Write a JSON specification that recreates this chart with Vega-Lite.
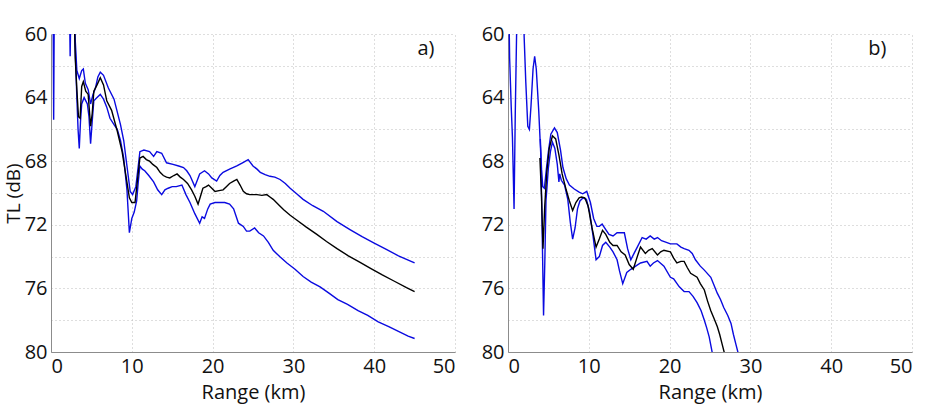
{
"$schema":"https://vega.github.io/schema/vega-lite/v6.json",
"background":"white",
"padding":{"left":4,"top":24,"right":5,"bottom":5},
"spacing":26,
"config":{
 "font":"Open Sans",
 "view":{"stroke":null},
 "axis":{"labelFont":"Open Sans","titleFont":"Open Sans","labelFontSize":20,"titleFontSize":20,"titleFontWeight":"normal","labelColor":"#111","titleColor":"#111","gridColor":"#bdbdbd","gridDash":[1,3],"gridWidth":1,"domainColor":"#8c8c8c","ticks":false,"labelPadding":4}
},
"datasets":{
"a":[
{"s":"l","x":0.25,"y":57},{"s":"l","x":0.33,"y":65.4},{"s":"l","x":0.42,"y":57},{"s":"l","x":2.25,"y":57},{"s":"l","x":2.37,"y":61.4},{"s":"l","x":2.5,"y":57},
{"s":"l","x":2.8,"y":57},{"s":"l","x":3.0,"y":61},{"s":"l","x":3.2,"y":64},{"s":"l","x":3.35,"y":66},{"s":"l","x":3.5,"y":67.2},{"s":"l","x":3.65,"y":65.5},{"s":"l","x":3.8,"y":64.4},{"s":"l","x":4.1,"y":64.0},{"s":"l","x":4.5,"y":64.4},{"s":"l","x":4.7,"y":65.2},{"s":"l","x":4.9,"y":66.9},{"s":"l","x":5.1,"y":65.5},{"s":"l","x":5.3,"y":64.2},{"s":"l","x":5.7,"y":64.0},{"s":"l","x":6.1,"y":63.8},{"s":"l","x":6.5,"y":64.1},{"s":"l","x":6.9,"y":64.6},{"s":"l","x":7.3,"y":65.3},{"s":"l","x":7.8,"y":65.7},{"s":"l","x":8.2,"y":66.0},{"s":"l","x":8.6,"y":66.7},{"s":"l","x":9.0,"y":67.8},{"s":"l","x":9.4,"y":69.8},{"s":"l","x":9.7,"y":72.5},{"s":"l","x":10.0,"y":71.6},{"s":"l","x":10.3,"y":71.2},{"s":"l","x":10.6,"y":70.5},{"s":"l","x":10.8,"y":69.3},{"s":"l","x":11.0,"y":68.3},{"s":"l","x":11.3,"y":68.5},{"s":"l","x":11.6,"y":68.6},{"s":"l","x":12.1,"y":68.9},{"s":"l","x":12.7,"y":69.3},{"s":"l","x":13.2,"y":69.8},{"s":"l","x":13.7,"y":70.1},{"s":"l","x":14.1,"y":69.8},{"s":"l","x":14.5,"y":69.7},{"s":"l","x":15.0,"y":69.6},{"s":"l","x":15.5,"y":69.6},{"s":"l","x":16.2,"y":69.5},{"s":"l","x":16.7,"y":70.1},{"s":"l","x":17.2,"y":70.6},{"s":"l","x":17.8,"y":71.3},{"s":"l","x":18.4,"y":71.9},{"s":"l","x":18.7,"y":71.5},{"s":"l","x":19.0,"y":71.6},{"s":"l","x":19.4,"y":71.0},{"s":"l","x":19.7,"y":70.7},{"s":"l","x":20.3,"y":70.6},{"s":"l","x":20.9,"y":70.6},{"s":"l","x":21.5,"y":70.6},{"s":"l","x":22.1,"y":70.7},{"s":"l","x":22.6,"y":71.0},{"s":"l","x":23.2,"y":71.9},{"s":"l","x":23.8,"y":72.1},{"s":"l","x":24.2,"y":72.4},{"s":"l","x":24.6,"y":72.4},{"s":"l","x":25.2,"y":72.2},{"s":"l","x":25.7,"y":72.5},{"s":"l","x":26.3,"y":72.7},{"s":"l","x":26.9,"y":73.1},{"s":"l","x":27.5,"y":73.6},{"s":"l","x":28.3,"y":74.0},{"s":"l","x":29.2,"y":74.4},{"s":"l","x":30.2,"y":74.8},{"s":"l","x":31.2,"y":75.25},{"s":"l","x":32.2,"y":75.6},{"s":"l","x":33.3,"y":75.9},{"s":"l","x":34.4,"y":76.3},{"s":"l","x":35.5,"y":76.7},{"s":"l","x":36.7,"y":77.0},{"s":"l","x":38.0,"y":77.4},{"s":"l","x":39.2,"y":77.7},{"s":"l","x":40.5,"y":78.1},{"s":"l","x":41.8,"y":78.4},{"s":"l","x":43.0,"y":78.7},{"s":"l","x":44.2,"y":79.0},{"s":"l","x":45.0,"y":79.15},
{"s":"u","x":2.7,"y":57},{"s":"u","x":2.9,"y":59.6},{"s":"u","x":3.0,"y":60.4},{"s":"u","x":3.2,"y":62.3},{"s":"u","x":3.5,"y":62.8},{"s":"u","x":3.8,"y":62.3},{"s":"u","x":4.0,"y":62.2},{"s":"u","x":4.25,"y":63.1},{"s":"u","x":4.6,"y":63.5},{"s":"u","x":4.9,"y":64.4},{"s":"u","x":5.2,"y":63.8},{"s":"u","x":5.5,"y":63.4},{"s":"u","x":5.8,"y":62.7},{"s":"u","x":6.1,"y":62.4},{"s":"u","x":6.5,"y":62.6},{"s":"u","x":7.1,"y":63.4},{"s":"u","x":7.8,"y":64.1},{"s":"u","x":8.6,"y":65.7},{"s":"u","x":9.0,"y":66.7},{"s":"u","x":9.4,"y":68.3},{"s":"u","x":9.8,"y":69.9},{"s":"u","x":10.1,"y":70.1},{"s":"u","x":10.5,"y":69.6},{"s":"u","x":10.8,"y":68.3},{"s":"u","x":11.0,"y":67.4},{"s":"u","x":11.5,"y":67.3},{"s":"u","x":12.2,"y":67.4},{"s":"u","x":12.7,"y":67.7},{"s":"u","x":13.1,"y":67.4},{"s":"u","x":13.7,"y":67.5},{"s":"u","x":14.3,"y":68.1},{"s":"u","x":15.1,"y":68.2},{"s":"u","x":15.8,"y":68.3},{"s":"u","x":16.4,"y":68.4},{"s":"u","x":16.8,"y":68.6},{"s":"u","x":17.2,"y":68.9},{"s":"u","x":17.8,"y":69.6},{"s":"u","x":18.4,"y":68.8},{"s":"u","x":19.0,"y":68.6},{"s":"u","x":19.5,"y":68.8},{"s":"u","x":19.9,"y":69.05},{"s":"u","x":20.5,"y":69.25},{"s":"u","x":20.9,"y":68.9},{"s":"u","x":21.3,"y":68.7},{"s":"u","x":22.1,"y":68.5},{"s":"u","x":23.0,"y":68.3},{"s":"u","x":23.7,"y":68.1},{"s":"u","x":24.4,"y":67.9},{"s":"u","x":25.0,"y":68.3},{"s":"u","x":25.5,"y":68.5},{"s":"u","x":25.9,"y":68.7},{"s":"u","x":26.5,"y":68.85},{"s":"u","x":27.1,"y":68.95},{"s":"u","x":27.7,"y":69.0},{"s":"u","x":28.35,"y":69.15},{"s":"u","x":29.0,"y":69.4},{"s":"u","x":29.6,"y":69.7},{"s":"u","x":30.4,"y":70.05},{"s":"u","x":31.2,"y":70.4},{"s":"u","x":32.4,"y":70.8},{"s":"u","x":33.7,"y":71.15},{"s":"u","x":35.4,"y":71.8},{"s":"u","x":37.0,"y":72.3},{"s":"u","x":38.5,"y":72.75},{"s":"u","x":40.0,"y":73.15},{"s":"u","x":41.5,"y":73.55},{"s":"u","x":43.0,"y":73.95},{"s":"u","x":45.0,"y":74.4},
{"s":"m","x":2.8,"y":57},{"s":"m","x":3.0,"y":61.5},{"s":"m","x":3.2,"y":63.5},{"s":"m","x":3.4,"y":65.2},{"s":"m","x":3.6,"y":65.3},{"s":"m","x":3.8,"y":63.3},{"s":"m","x":4.0,"y":63.0},{"s":"m","x":4.3,"y":63.6},{"s":"m","x":4.6,"y":63.8},{"s":"m","x":4.9,"y":65.8},{"s":"m","x":5.1,"y":65.0},{"s":"m","x":5.3,"y":63.6},{"s":"m","x":5.7,"y":63.2},{"s":"m","x":6.1,"y":62.75},{"s":"m","x":6.5,"y":63.2},{"s":"m","x":6.9,"y":64.2},{"s":"m","x":7.5,"y":64.8},{"s":"m","x":8.2,"y":66.1},{"s":"m","x":8.8,"y":67.4},{"s":"m","x":9.3,"y":69.0},{"s":"m","x":9.7,"y":70.3},{"s":"m","x":10.0,"y":70.6},{"s":"m","x":10.4,"y":70.6},{"s":"m","x":10.7,"y":69.2},{"s":"m","x":11.0,"y":67.8},{"s":"m","x":11.4,"y":67.7},{"s":"m","x":11.8,"y":67.9},{"s":"m","x":12.2,"y":68.0},{"s":"m","x":12.6,"y":68.2},{"s":"m","x":13.1,"y":68.4},{"s":"m","x":13.5,"y":68.7},{"s":"m","x":13.9,"y":68.9},{"s":"m","x":14.3,"y":69.0},{"s":"m","x":14.7,"y":69.05},{"s":"m","x":15.2,"y":68.9},{"s":"m","x":15.6,"y":68.8},{"s":"m","x":16.0,"y":69.0},{"s":"m","x":16.4,"y":69.15},{"s":"m","x":16.9,"y":69.4},{"s":"m","x":17.4,"y":69.8},{"s":"m","x":17.8,"y":70.2},{"s":"m","x":18.2,"y":70.7},{"s":"m","x":18.5,"y":70.2},{"s":"m","x":18.8,"y":69.7},{"s":"m","x":19.2,"y":69.6},{"s":"m","x":19.5,"y":69.5},{"s":"m","x":19.9,"y":69.7},{"s":"m","x":20.3,"y":69.9},{"s":"m","x":20.8,"y":69.85},{"s":"m","x":21.3,"y":69.8},{"s":"m","x":21.7,"y":69.6},{"s":"m","x":22.1,"y":69.4},{"s":"m","x":22.6,"y":69.25},{"s":"m","x":23.0,"y":69.15},{"s":"m","x":23.4,"y":69.5},{"s":"m","x":23.8,"y":69.9},{"s":"m","x":24.2,"y":70.05},{"s":"m","x":24.6,"y":70.1},{"s":"m","x":25.5,"y":70.1},{"s":"m","x":26.1,"y":70.15},{"s":"m","x":26.7,"y":70.1},{"s":"m","x":27.1,"y":70.25},{"s":"m","x":27.5,"y":70.4},{"s":"m","x":28.2,"y":70.75},{"s":"m","x":28.8,"y":71.05},{"s":"m","x":29.6,"y":71.4},{"s":"m","x":30.4,"y":71.7},{"s":"m","x":31.6,"y":72.15},{"s":"m","x":32.9,"y":72.6},{"s":"m","x":34.1,"y":73.05},{"s":"m","x":35.4,"y":73.5},{"s":"m","x":36.8,"y":73.95},{"s":"m","x":38.2,"y":74.35},{"s":"m","x":39.6,"y":74.75},{"s":"m","x":41.0,"y":75.15},{"s":"m","x":42.5,"y":75.55},{"s":"m","x":44.0,"y":75.95},{"s":"m","x":45.0,"y":76.2}
],
"b":[
{"s":"l","x":0.1,"y":58},{"s":"l","x":0.2,"y":61.5},{"s":"l","x":0.4,"y":64.6},{"s":"l","x":0.55,"y":66.5},{"s":"l","x":0.75,"y":71},{"s":"l","x":0.9,"y":65},{"s":"l","x":1.07,"y":59.8},{"s":"l","x":1.2,"y":57},{"s":"l","x":1.85,"y":57},{"s":"l","x":2.0,"y":60.2},{"s":"l","x":2.2,"y":63},{"s":"l","x":2.45,"y":65.8},{"s":"l","x":2.65,"y":66.0},{"s":"l","x":2.85,"y":64.5},{"s":"l","x":3.1,"y":62.2},{"s":"l","x":3.3,"y":61.4},{"s":"l","x":3.5,"y":62.2},{"s":"l","x":3.8,"y":64.8},{"s":"l","x":4.05,"y":67.5},{"s":"l","x":4.2,"y":71.5},{"s":"l","x":4.4,"y":77.7},{"s":"l","x":4.55,"y":74.5},{"s":"l","x":4.7,"y":70.5},{"s":"l","x":5.0,"y":68.4},{"s":"l","x":5.25,"y":67.4},{"s":"l","x":5.5,"y":66.8},{"s":"l","x":5.8,"y":67.2},{"s":"l","x":6.1,"y":68.2},{"s":"l","x":6.3,"y":69.3},{"s":"l","x":6.4,"y":68.8},{"s":"l","x":6.6,"y":69.2},{"s":"l","x":7.0,"y":69.5},{"s":"l","x":7.4,"y":70.4},{"s":"l","x":7.7,"y":71.8},{"s":"l","x":8.0,"y":72.9},{"s":"l","x":8.3,"y":72.2},{"s":"l","x":8.6,"y":71.0},{"s":"l","x":8.9,"y":70.5},{"s":"l","x":9.3,"y":70.3},{"s":"l","x":9.7,"y":70.4},{"s":"l","x":10.1,"y":71.2},{"s":"l","x":10.5,"y":72.6},{"s":"l","x":10.9,"y":74.2},{"s":"l","x":11.3,"y":74.0},{"s":"l","x":11.7,"y":73.3},{"s":"l","x":12.1,"y":73.1},{"s":"l","x":12.6,"y":73.4},{"s":"l","x":13.0,"y":73.7},{"s":"l","x":13.5,"y":74.2},{"s":"l","x":13.8,"y":74.9},{"s":"l","x":14.2,"y":75.7},{"s":"l","x":14.7,"y":75.0},{"s":"l","x":15.2,"y":74.8},{"s":"l","x":15.8,"y":74.6},{"s":"l","x":16.4,"y":74.4},{"s":"l","x":17.2,"y":74.3},{"s":"l","x":17.6,"y":74.6},{"s":"l","x":18.0,"y":74.4},{"s":"l","x":18.5,"y":74.25},{"s":"l","x":19.3,"y":74.6},{"s":"l","x":20.1,"y":75.3},{"s":"l","x":20.5,"y":75.4},{"s":"l","x":21.2,"y":75.9},{"s":"l","x":21.8,"y":76.2},{"s":"l","x":22.4,"y":76.2},{"s":"l","x":22.9,"y":76.5},{"s":"l","x":23.4,"y":76.9},{"s":"l","x":23.9,"y":77.4},{"s":"l","x":24.3,"y":78.0},{"s":"l","x":24.6,"y":78.5},{"s":"l","x":24.9,"y":79.05},{"s":"l","x":25.3,"y":80.1},{"s":"l","x":25.5,"y":80.8},
{"s":"u","x":4.0,"y":66.6},{"s":"u","x":4.15,"y":68.5},{"s":"u","x":4.3,"y":69.6},{"s":"u","x":4.5,"y":69.7},{"s":"u","x":4.75,"y":68.5},{"s":"u","x":5.0,"y":67.4},{"s":"u","x":5.3,"y":66.3},{"s":"u","x":5.75,"y":65.9},{"s":"u","x":6.1,"y":66.2},{"s":"u","x":6.5,"y":67.3},{"s":"u","x":6.8,"y":68.4},{"s":"u","x":7.2,"y":69.1},{"s":"u","x":7.6,"y":69.5},{"s":"u","x":8.2,"y":69.75},{"s":"u","x":8.8,"y":69.95},{"s":"u","x":9.25,"y":70.05},{"s":"u","x":9.75,"y":69.9},{"s":"u","x":10.2,"y":70.6},{"s":"u","x":10.6,"y":71.6},{"s":"u","x":11.0,"y":72.1},{"s":"u","x":11.3,"y":72.1},{"s":"u","x":11.65,"y":71.95},{"s":"u","x":12.1,"y":72.3},{"s":"u","x":12.5,"y":72.6},{"s":"u","x":13.0,"y":72.7},{"s":"u","x":13.5,"y":72.5},{"s":"u","x":14.4,"y":72.5},{"s":"u","x":14.8,"y":73.5},{"s":"u","x":15.2,"y":74.2},{"s":"u","x":15.6,"y":73.8},{"s":"u","x":16.0,"y":73.4},{"s":"u","x":16.6,"y":72.8},{"s":"u","x":17.1,"y":72.9},{"s":"u","x":17.6,"y":72.7},{"s":"u","x":18.1,"y":72.9},{"s":"u","x":18.5,"y":72.8},{"s":"u","x":19.0,"y":73.0},{"s":"u","x":19.6,"y":73.1},{"s":"u","x":20.1,"y":73.2},{"s":"u","x":20.9,"y":73.2},{"s":"u","x":21.4,"y":73.4},{"s":"u","x":21.8,"y":73.5},{"s":"u","x":22.4,"y":73.6},{"s":"u","x":22.8,"y":73.8},{"s":"u","x":23.2,"y":74.2},{"s":"u","x":23.8,"y":74.6},{"s":"u","x":24.3,"y":74.85},{"s":"u","x":25.1,"y":75.3},{"s":"u","x":25.5,"y":75.8},{"s":"u","x":25.9,"y":76.3},{"s":"u","x":26.3,"y":76.7},{"s":"u","x":26.7,"y":77.2},{"s":"u","x":27.2,"y":77.7},{"s":"u","x":27.6,"y":78.2},{"s":"u","x":27.9,"y":78.9},{"s":"u","x":28.2,"y":79.5},{"s":"u","x":28.5,"y":80.1},{"s":"u","x":28.7,"y":80.6},
{"s":"m","x":3.95,"y":67.8},{"s":"m","x":4.15,"y":70.2},{"s":"m","x":4.33,"y":73.5},{"s":"m","x":4.55,"y":70.8},{"s":"m","x":4.8,"y":68.7},{"s":"m","x":5.1,"y":67.2},{"s":"m","x":5.5,"y":66.4},{"s":"m","x":5.9,"y":66.6},{"s":"m","x":6.3,"y":67.6},{"s":"m","x":6.7,"y":68.8},{"s":"m","x":7.2,"y":69.8},{"s":"m","x":7.6,"y":70.5},{"s":"m","x":8.0,"y":71.1},{"s":"m","x":8.4,"y":70.6},{"s":"m","x":8.8,"y":70.3},{"s":"m","x":9.1,"y":70.25},{"s":"m","x":9.5,"y":70.3},{"s":"m","x":9.9,"y":70.8},{"s":"m","x":10.4,"y":72.2},{"s":"m","x":10.9,"y":73.4},{"s":"m","x":11.3,"y":72.9},{"s":"m","x":11.7,"y":72.35},{"s":"m","x":12.1,"y":72.6},{"s":"m","x":12.6,"y":73.1},{"s":"m","x":13.0,"y":73.3},{"s":"m","x":13.5,"y":73.3},{"s":"m","x":14.0,"y":73.7},{"s":"m","x":14.5,"y":73.9},{"s":"m","x":15.0,"y":74.5},{"s":"m","x":15.5,"y":74.8},{"s":"m","x":16.0,"y":74.0},{"s":"m","x":16.4,"y":73.4},{"s":"m","x":17.0,"y":73.8},{"s":"m","x":17.4,"y":73.6},{"s":"m","x":17.85,"y":73.5},{"s":"m","x":18.5,"y":73.9},{"s":"m","x":18.9,"y":73.7},{"s":"m","x":19.3,"y":73.6},{"s":"m","x":20.1,"y":73.7},{"s":"m","x":20.5,"y":74.1},{"s":"m","x":20.9,"y":74.4},{"s":"m","x":21.4,"y":74.3},{"s":"m","x":21.8,"y":74.3},{"s":"m","x":22.2,"y":74.7},{"s":"m","x":22.6,"y":75.05},{"s":"m","x":23.4,"y":75.3},{"s":"m","x":23.8,"y":75.7},{"s":"m","x":24.3,"y":76.1},{"s":"m","x":24.7,"y":76.8},{"s":"m","x":25.1,"y":77.4},{"s":"m","x":25.5,"y":77.9},{"s":"m","x":25.9,"y":78.4},{"s":"m","x":26.2,"y":78.9},{"s":"m","x":26.5,"y":79.5},{"s":"m","x":26.8,"y":80.1},{"s":"m","x":27.0,"y":80.6}
]
},
"hconcat":[
{
 "width":404,"height":318,
 "data":{"name":"a"},
 "encoding":{
  "x":{"field":"x","type":"quantitative","title":"Range (km)","scale":{"domain":[0,50],"nice":false},"axis":{"values":[0,10,20,30,40,50],"titlePadding":6}},
  "y":{"field":"y","type":"quantitative","title":"TL (dB)","scale":{"domain":[60,80],"reverse":true,"nice":false},"axis":{"values":[60,62,64,66,68,70,72,74,76,78,80],"labelExpr":"datum.value % 4 == 0 ? datum.label : ''","titlePadding":1,"titleFontSize":19}}
 },
 "layer":[
  {"transform":[{"filter":"datum.s != 'm'"}],"mark":{"type":"line","clip":true,"color":"#0a0ae0","strokeWidth":1.4},"encoding":{"detail":{"field":"s"}}},
  {"transform":[{"filter":"datum.s == 'm'"}],"mark":{"type":"line","clip":true,"color":"#000000","strokeWidth":1.4},"encoding":{}},
  {"data":{"values":[{"x":46.4,"y":60.95,"t":"a)"}]},"mark":{"type":"text","font":"Open Sans","fontSize":20,"color":"#111"},"encoding":{"text":{"field":"t"}}}
 ]
},
{
 "width":404,"height":318,
 "data":{"name":"b"},
 "encoding":{
  "x":{"field":"x","type":"quantitative","title":"Range (km)","scale":{"domain":[0,50],"nice":false},"axis":{"values":[0,10,20,30,40,50],"titlePadding":6}},
  "y":{"field":"y","type":"quantitative","title":null,"scale":{"domain":[60,80],"reverse":true,"nice":false},"axis":{"values":[60,62,64,66,68,70,72,74,76,78,80],"labelExpr":"datum.value % 4 == 0 ? datum.label : ''"}}
 },
 "layer":[
  {"transform":[{"filter":"datum.s != 'm'"}],"mark":{"type":"line","clip":true,"color":"#0a0ae0","strokeWidth":1.4},"encoding":{"detail":{"field":"s"}}},
  {"transform":[{"filter":"datum.s == 'm'"}],"mark":{"type":"line","clip":true,"color":"#000000","strokeWidth":1.4},"encoding":{}},
  {"data":{"values":[{"x":45.7,"y":60.95,"t":"b)"}]},"mark":{"type":"text","font":"Open Sans","fontSize":20,"color":"#111"},"encoding":{"text":{"field":"t"}}}
 ]
}
]
}
